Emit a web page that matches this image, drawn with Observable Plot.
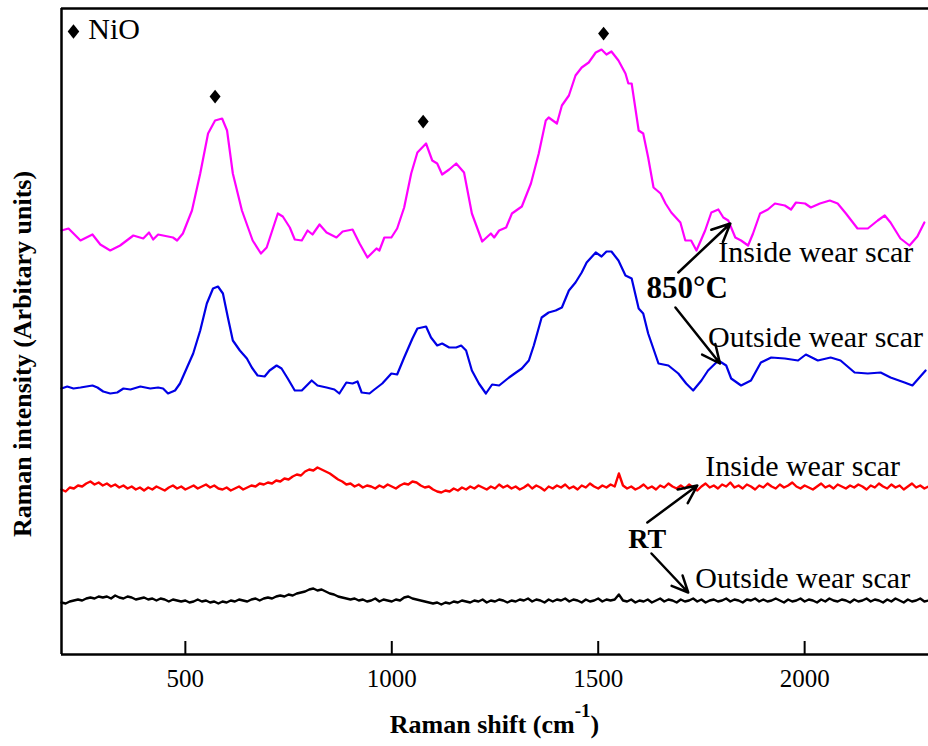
<!DOCTYPE html>
<html><head><meta charset="utf-8">
<script src="https://cdn.jsdelivr.net/npm/d3@7"></script>
<script src="https://cdn.jsdelivr.net/npm/@observablehq/plot@0.6"></script>
<style>body{margin:0;background:#fff} svg{display:block}</style>
</head><body><div id="chart"></div>
<script>
// 850°C, inside wear scar (magenta)
const hotInShift = [200,217,246,275,294,318,342,374,398,412,422,434,470,480,494,516,536,555,572,589,601,615,637,663,683,697,724,736,753,765,782,796,808,825,842,866,881,905,922,941,963,970,982,999,1013,1030,1047,1062,1083,1098,1110,1122,1139,1156,1175,1194,1219,1240,1248,1260,1277,1291,1315,1337,1356,1373,1380,1400,1412,1429,1445,1460,1477,1494,1508,1520,1532,1549,1566,1573,1581,1598,1609,1621,1634,1651,1663,1677,1699,1711,1725,1738,1759,1774,1791,1803,1815,1832,1846,1863,1875,1892,1911,1928,1952,1967,1979,2001,2015,2037,2061,2080,2100,2128,2153,2177,2194,2208,2232,2254,2273,2290];
const hotInInt = [424,426,414,420,410,404,409,419,416,422,415,420,417,414,421,444,481,521,534,536,524,481,444,414,401,407,441,438,427,415,414,424,420,430,422,417,423,425,411,397,406,404,417,417,426,447,481,502,511,494,491,480,485,491,482,441,413,421,417,424,427,441,448,471,501,534,537,531,549,559,579,587,592,602,605,600,603,594,581,571,571,524,521,497,467,461,451,442,432,414,414,404,424,442,445,437,434,417,414,409,421,441,445,451,449,445,452,451,447,451,454,451,441,426,426,434,439,432,416,409,418,432];
// 850°C, outside wear scar (blue)
const hotOutShift = [200,214,229,246,275,287,301,318,335,350,367,391,415,434,446,458,475,487,504,519,536,552,567,579,591,603,615,632,649,661,675,692,704,721,733,748,765,782,806,820,842,861,873,890,905,917,927,946,958,977,999,1013,1030,1050,1062,1083,1095,1110,1122,1139,1156,1168,1180,1194,1211,1228,1243,1260,1284,1301,1315,1332,1344,1363,1380,1397,1412,1429,1445,1460,1472,1494,1508,1520,1532,1549,1566,1581,1598,1609,1621,1646,1670,1694,1713,1730,1750,1766,1791,1810,1822,1846,1870,1894,1919,1952,1984,2003,2032,2063,2087,2121,2153,2184,2208,2242,2261,2293];
const hotOutInt = [266,268,266,267,269,267,263,261,262,266,265,268,266,267,266,261,264,271,287,301,324,351,366,368,361,337,314,304,296,287,279,278,284,289,286,276,264,264,274,269,267,265,261,272,271,273,262,261,265,271,281,280,297,316,326,328,317,309,311,307,307,309,304,284,271,261,270,269,277,282,286,294,309,337,342,344,347,364,372,382,392,402,398,403,403,394,379,376,346,341,321,291,289,281,271,264,274,284,294,289,276,269,274,292,297,296,294,300,294,297,294,282,281,282,277,272,269,284];
// RT spectra (shared shift grid)
const rtShift = [200,210,220,230,240,250,260,270,280,290,300,310,320,330,340,350,360,370,380,390,400,410,420,430,440,450,460,470,480,490,500,510,520,530,540,550,560,570,580,590,600,610,620,630,640,650,660,670,680,690,700,710,720,730,740,750,760,770,780,790,800,810,820,830,840,850,860,870,880,890,900,910,920,930,940,950,960,970,980,990,1000,1010,1020,1030,1040,1050,1060,1070,1080,1090,1100,1110,1120,1130,1140,1150,1160,1170,1180,1190,1200,1210,1220,1230,1240,1250,1260,1270,1280,1290,1300,1310,1320,1330,1340,1350,1360,1370,1380,1390,1400,1410,1420,1430,1440,1450,1460,1470,1480,1490,1500,1510,1520,1530,1540,1550,1560,1570,1580,1590,1600,1610,1620,1630,1640,1650,1660,1670,1680,1690,1700,1710,1720,1730,1740,1750,1760,1770,1780,1790,1800,1810,1820,1830,1840,1850,1860,1870,1880,1890,1900,1910,1920,1930,1940,1950,1960,1970,1980,1990,2000,2010,2020,2030,2040,2050,2060,2070,2080,2090,2100,2110,2120,2130,2140,2150,2160,2170,2180,2190,2200,2210,2220,2230,2240,2250,2260,2270,2280,2290,2300];
const rtInInt = [165,163,167,166,169,168,171,173,170,172,169,171,168,170,167,169,166,168,165,167,164,167,165,168,166,164,167,169,166,168,165,167,169,166,168,170,167,169,166,165,167,164,166,168,165,167,169,168,171,170,172,171,174,173,176,175,178,180,179,183,185,184,187,185,183,181,178,175,173,170,171,168,170,167,169,168,166,169,167,170,168,166,169,171,170,173,172,169,167,168,165,163,162,164,163,166,164,167,165,168,166,169,167,165,168,166,170,167,169,166,168,165,167,170,166,169,167,164,168,166,169,167,170,166,168,165,169,167,171,168,166,169,167,170,168,181,169,166,168,165,167,170,166,168,165,169,167,171,168,166,169,166,170,167,164,168,171,167,169,166,170,168,172,167,169,166,170,168,165,169,167,171,168,166,170,167,169,172,168,166,169,167,165,168,171,167,169,166,170,168,166,169,167,170,168,165,169,167,171,168,166,170,167,169,165,168,171,167,169,166,168];
const rtOutInt = [52,51,53,54,55,54,56,57,56,58,57,58,56,59,57,56,58,57,55,56,57,55,56,54,56,55,53,55,54,53,54,52,53,55,53,54,52,53,51,53,52,54,53,55,54,53,55,56,54,56,57,56,58,59,58,60,59,61,62,63,65,66,64,65,63,61,60,58,57,56,55,56,54,55,53,54,56,53,55,54,53,55,54,57,58,56,55,54,53,52,51,52,50,52,51,53,52,54,53,52,54,53,55,52,54,53,55,54,52,54,53,55,54,56,53,55,54,52,55,53,55,54,56,53,55,54,52,55,53,54,56,53,55,54,55,60,54,53,55,52,54,53,55,52,54,56,53,55,54,52,55,53,54,56,53,55,52,54,55,53,54,56,53,55,54,52,55,54,56,53,55,53,54,56,54,52,55,53,54,56,53,55,54,52,55,53,56,54,53,55,54,52,55,53,54,56,53,55,54,52,55,53,56,54,52,55,53,54,56,53,54];

const xTicks = [500, 1000, 1500, 2000];
const xDomain = [200, 2300];
const yDomain = [0, 646];
// NiO peak markers
const peakShift = [572, 1076, 1513];
const peakLevel = [558, 533, 621];
// annotations
const noteText = ["Inside wear scar", "Outside wear scar", "Inside wear scar", "Outside wear scar", "NiO"];
const noteShift = [1791, 1766, 1759, 1735, 265];
const noteLevel = [402, 317, 188, 76, 625];
const groupText = ["850°C", "RT"];
const groupShift = [1617, 1573];
const groupLevel = [366, 115];
const arrowFromShift = [1694, 1687, 1619, 1629];
const arrowFromLevel = [382, 347, 132, 101];
const arrowToShift = [1820, 1795, 1740, 1718];
const arrowToLevel = [431, 291, 169, 62];
const legendShift = [229];
const legendLevel = [623];

const FONT = "Liberation Serif, 'Times New Roman', serif";
const pts = (xs, ys) => xs.map((x, i) => ({x, y: ys[i]}));
const diamond = {draw(ctx, size) { const r = Math.sqrt(size / Math.PI); const h = r * 1.25; ctx.moveTo(0, -h); ctx.lineTo(r, 0); ctx.lineTo(0, h); ctx.lineTo(-r, 0); ctx.closePath(); }};

const notes = noteText.map((t, i) => ({t, x: noteShift[i], y: noteLevel[i]}));
const groups = groupText.map((t, i) => ({t, x: groupShift[i], y: groupLevel[i]}));
const arrows = arrowFromShift.map((x1, i) => ({x1, y1: arrowFromLevel[i], x2: arrowToShift[i], y2: arrowToLevel[i]}));

const svg = Plot.plot({
  width: 928, height: 746,
  marginLeft: 61, marginRight: 0, marginTop: 8, marginBottom: 92,
  style: {fontFamily: FONT, background: "#fff", color: "#000"},
  x: {domain: xDomain},
  y: {domain: yDomain, axis: null},
  marks: [
    Plot.line(pts(rtShift, rtOutInt), {x: "x", y: "y", stroke: "#000", strokeWidth: 2.4}),
    Plot.line(pts(rtShift, rtInInt), {x: "x", y: "y", stroke: "#ff0000", strokeWidth: 2.4}),
    Plot.line(pts(hotOutShift, hotOutInt), {x: "x", y: "y", stroke: "#0000e6", strokeWidth: 2.2}),
    Plot.line(pts(hotInShift, hotInInt), {x: "x", y: "y", stroke: "#ff00ff", strokeWidth: 2.2}),
    Plot.dot(pts(peakShift, peakLevel), {x: "x", y: "y", symbol: diamond, r: 5.5, fill: "#000", stroke: "none"}),
    Plot.dot(pts(legendShift, legendLevel), {x: "x", y: "y", symbol: diamond, r: 5.8, fill: "#000", stroke: "none"}),
    Plot.text(notes, {x: "x", y: "y", text: "t", textAnchor: "start", fontSize: 30, fontFamily: FONT, fill: "#000"}),
    Plot.text(groups.filter(d => d.t !== "RT"), {x: "x", y: "y", text: "t", textAnchor: "start", fontSize: 31, fontWeight: "bold", fontFamily: FONT, fill: "#000"}),
    Plot.text(groups.filter(d => d.t === "RT"), {x: "x", y: "y", text: "t", textAnchor: "start", fontSize: 28, fontWeight: "bold", fontFamily: FONT, fill: "#000"}),
    Plot.arrow(arrows, {x1: "x1", y1: "y1", x2: "x2", y2: "y2", stroke: "#000", strokeWidth: 2.5, headLength: 12, headAngle: 50}),
    Plot.tickX(xTicks, {x: d => d, insetTop: 633, stroke: "#000", strokeWidth: 2}),
    Plot.ruleX([xDomain[0]], {stroke: "#000", strokeWidth: 2.5}),
    Plot.ruleY(yDomain, {stroke: "#000", strokeWidth: 2.5}),
    Plot.axisX({ticks: xTicks, tickFormat: d => String(d), tickSize: 0, tickPadding: 15, fontSize: 25, fontFamily: FONT, label: null})
  ]
});

const s = d3.select(svg);
const xt = s.append("text")
  .attr("x", (61 + 928) / 2).attr("y", 733)
  .attr("text-anchor", "middle").attr("font-weight", "bold").attr("font-size", 26)
  .attr("font-family", FONT).attr("fill", "#000");
xt.append("tspan").text("Raman shift (cm");
xt.append("tspan").attr("dy", -16).attr("font-size", 19).text("-1");
xt.append("tspan").attr("dy", 16).text(")");
s.append("text")
  .attr("transform", "translate(31,354) rotate(-90)")
  .attr("text-anchor", "middle").attr("font-weight", "bold").attr("font-size", 26)
  .attr("font-family", FONT).attr("fill", "#000")
  .text("Raman intensity (Arbitary units)");

document.getElementById("chart").appendChild(svg);
</script>
</body></html>
